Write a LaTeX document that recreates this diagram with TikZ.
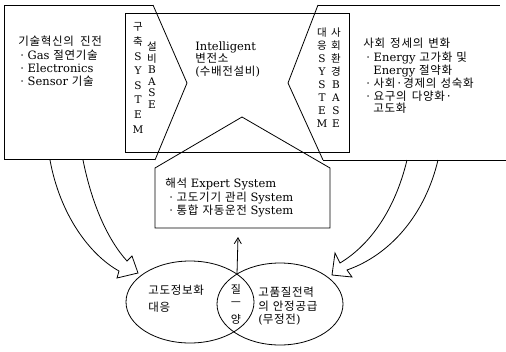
\documentclass[tikz,border=0pt]{standalone}
\usepackage{fontspec}
\setmainfont{DejaVu Serif}
\newfontfamily\kr{Noto Sans CJK KR}[LetterSpace=6]
\usetikzlibrary{shapes.geometric,arrows.meta}
\newcommand\K[1]{{\kr #1}}
\begin{document}
\begin{tikzpicture}[x=1pt,y=-1pt,line width=0.8pt,
  txt/.style={anchor=base west,inner sep=0pt,font=\fontsize{11.5}{13}\selectfont},
  vch/.style={inner sep=0pt,font=\fontsize{10.5}{12}\selectfont},
  oval/.style={draw,ellipse,inner sep=0pt}]
\fill[white] (0,0) rectangle (506,351);
\useasboundingbox (0,0) rectangle (506,351);

% upper left box and chevron
\draw (153,5) -- (4,5) -- (4,159) -- (155,159);
\draw (153,5) -- (187,83) -- (155,160);
% upper right box and chevron
\draw (318,5) -- (500,5);
\draw (323,160) -- (506,160);
\draw (318,5) -- (288,83) -- (323,160);
% central band
\draw (125,13) rectangle (349,152);
% expert system house
\draw (155,228) -- (155,168) -- (242,117) -- (330,168) -- (330,228) -- cycle;
\coordinate (expbot) at (238,237);

% ellipses
\node[oval,minimum width=128pt,minimum height=82pt] (lell) at (190,302) {};
\node[oval,minimum width=126pt,minimum height=82pt] (rell) at (280,304) {};
\coordinate (lenstop) at (237,274);
\draw[-{Straight Barb[length=6pt,width=7pt]}] (lenstop) -- (expbot);

% hollow arrows
\draw (50,160) .. controls (60,215) and (90,255) .. (119,271) -- (117,278) -- (138,273) -- (132,256) -- (127,261) .. controls (108,240) and (92,205) .. (83,160);
\draw (407,160) .. controls (395,210) and (370,245) .. (340,263) -- (335,253) -- (332,275) -- (352,277) -- (347,270) .. controls (390,255) and (425,215) .. (438,160);

% left text
\node[txt] (l1) at (18,45) {\K{기술혁신의}\hspace{6pt}\K{진전}};
\node[txt] (l2) at (20,59) {· Gas \K{절연기술}};
\node[txt] (l3) at (20,72) {· Electronics};
\node[txt] (l4) at (20,85) {· Sensor \K{기술}};

% middle text
\node[txt] (m1) at (195,50) {Intelligent};
\node[txt] (m2) at (195,62) {\K{변전소}};
\node[txt] (m3) at (195,75) {(\K{수배전설비})};

% right text
\node[txt] (r1) at (363,47) {\K{사회}\hspace{5pt}\K{정세의}\hspace{5pt}\K{변화}};
\node[txt] (r2) at (366,61) {· Energy \K{고가화}\hspace{4pt}\K{및}};
\node[txt] (r3) at (373,74) {Energy \K{절약화}};
\node[txt] (r4) at (366,87) {· \K{사회·경제의}\hspace{4pt}\K{성숙화}};
\node[txt] (r5) at (366,100) {· \K{요구의}\hspace{5pt}\K{다양화·}};
\node[txt] (r6) at (373,112) {\K{고도화}};

% vertical columns
\foreach \c [count=\i] in {\K{구},\K{축},S,Y,S,T,E,M}
  \node[vch] (lca\i) at (138,{27+14.6*(\i-1)}) {\c};
\foreach \c [count=\i] in {\K{설},\K{비},B,A,S,E}
  \node[vch] (lcb\i) at (152,{47+11.5*(\i-1)}) {\c};
\foreach \c [count=\i] in {\K{대},\K{응},S,Y,S,T,E,M}
  \node[vch] (rca\i) at (322,{33+12.9*(\i-1)}) {\c};
\foreach \c [count=\i] in {\K{사},\K{회},\K{환},\K{경},B,A,S,E}
  \node[vch] (rcb\i) at (336,{33+12.9*(\i-1)}) {\c};

% expert text
\node[txt] (e1) at (165,187) {\K{해석} Expert System};
\node[txt] (e2) at (169,201) {· \K{고도기기}\hspace{4pt}\K{관리} System};
\node[txt] (e3) at (169,214) {· \K{통합}\hspace{4pt}\K{자동운전} System};

% ellipse texts
\node[txt] (le1) at (148,294) {\K{고도정보화}};
\node[txt] (le2) at (148,311) {\K{대응}};
\node[txt] (re1) at (258,296) {\K{고품질전력}};
\node[txt] (re2) at (258,310) {\K{의}\hspace{4pt}\K{안정공급}};
\node[txt] (re3) at (258,323) {(\K{무정전})};
\node[vch,font=\fontsize{11}{12}\selectfont] (lens1) at (236,289) {\K{질}};
\node[vch,font=\fontsize{11}{12}\selectfont] (lens2) at (236,304) {\K{ㅡ}};
\node[vch,font=\fontsize{11}{12}\selectfont] (lens3) at (236,319) {\K{양}};
\end{tikzpicture}
\end{document}
